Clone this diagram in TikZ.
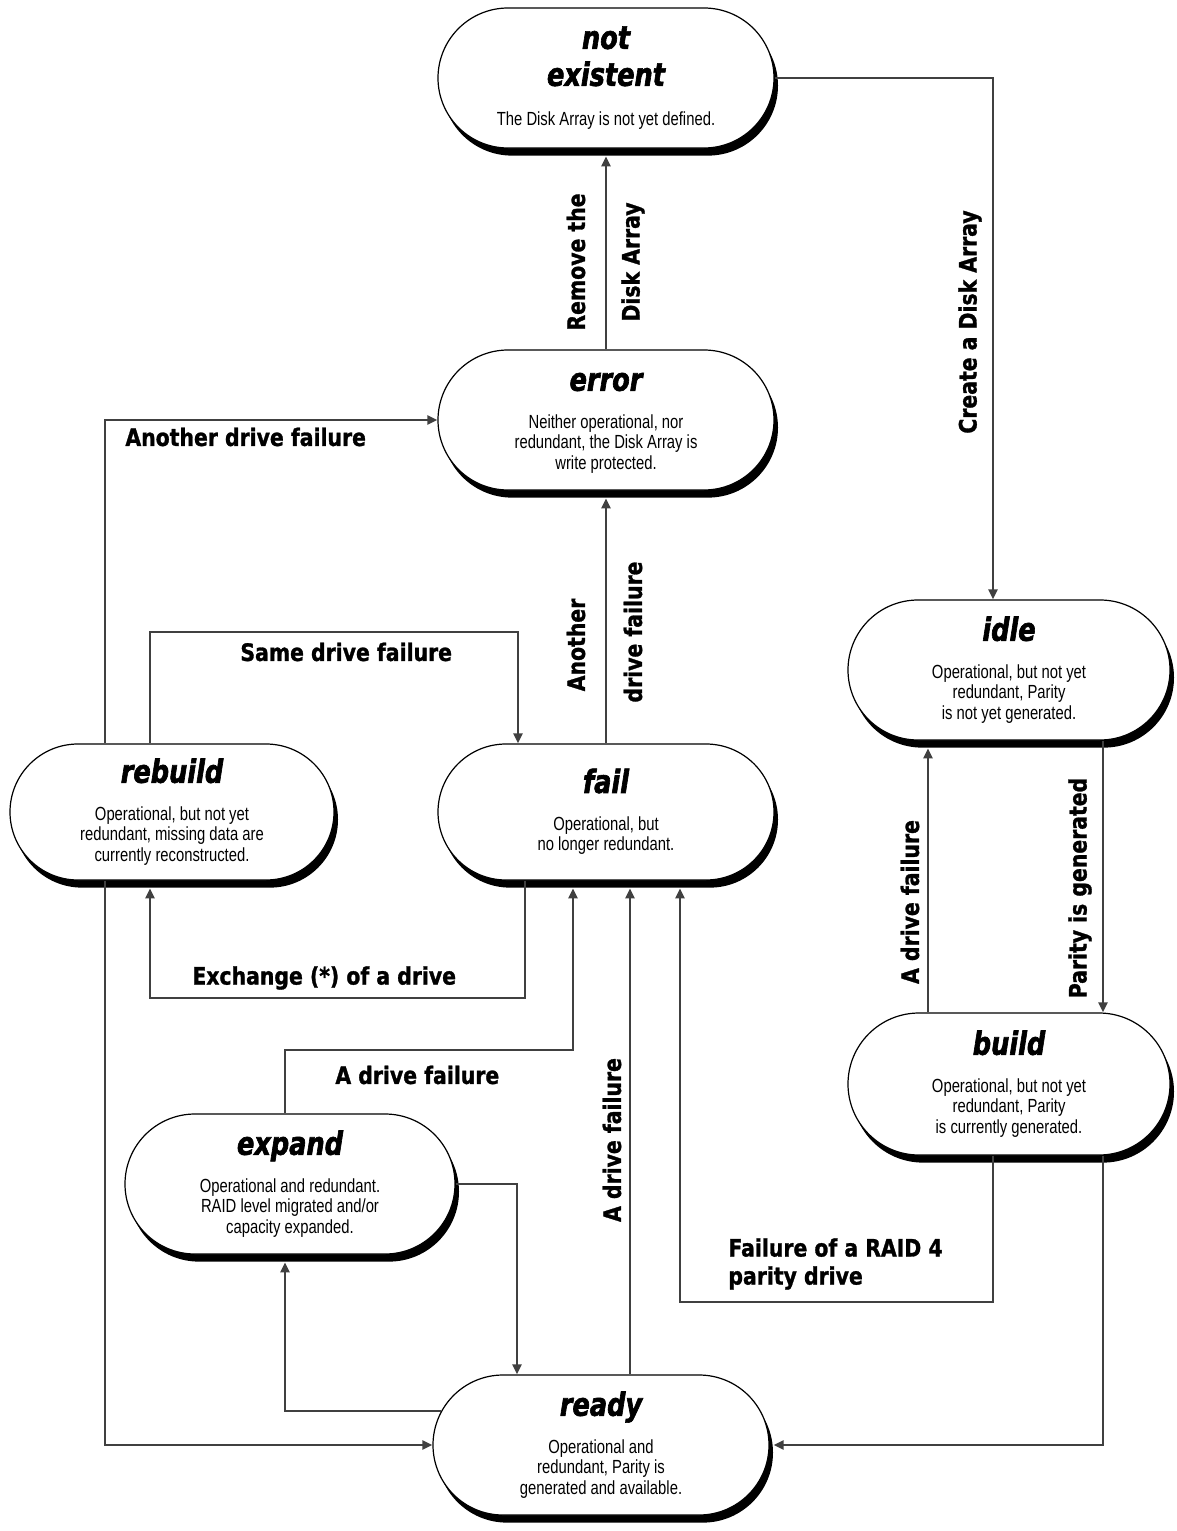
\documentclass[tikz,border=0pt]{standalone}
\usepackage{fontspec}
\usetikzlibrary{shapes.misc,shadows,arrows.meta,calc}
\newfontfamily\ttlfam[FakeStretch=0.8,FakeBold=2]{DejaVu Sans}
\newfontfamily\lblfam[FakeStretch=0.85,FakeBold=1.2]{DejaVu Sans}
\newfontfamily\dscfam[FakeStretch=0.78]{Liberation Sans}
\newcommand\stt[2]{\begin{tabular}{@{}c@{}}{\ttlfam\bfseries\itshape\fontsize{16}{18.5}\selectfont\begin{tabular}[b]{@{}c@{}}#1\end{tabular}}\\[8pt]{\dscfam\fontsize{9.5}{10.2}\selectfont\begin{tabular}{@{}c@{}}#2\end{tabular}}\end{tabular}}
\tikzset{
  state/.style={rounded rectangle, draw=black, line width=0.6pt, fill=white,
    minimum height=70pt, inner sep=0pt,
    drop shadow={shadow xshift=2pt, shadow yshift=-3.8pt, fill=black, opacity=1}},
  conn/.style={draw=black!75, line width=1.1pt, -{Triangle[length=5pt,width=4.5pt]}},
  tosouth/.style={shorten >=3.9pt},
  toeast/.style={shorten >=2pt},
  lbl/.style={font=\lblfam\bfseries\fontsize{12}{14}\selectfont, inner sep=0pt}
}
\begin{document}
\begin{tikzpicture}[x=0.5pt,y=-0.5pt]
\useasboundingbox (0,0) rectangle (1177,1531);
% states
\node[state, minimum width=168pt] (notex) at (606,78) {\stt{not\\existent}{The Disk Array is not yet defined.}};
\node[state, minimum width=168pt] (err) at (606,420) {\stt{error}{Neither operational, nor\\ redundant, the Disk Array is\\ write protected.}};
\node[state, minimum width=162pt, minimum height=68pt] (rebuild) at (172,812) {\stt{rebuild}{Operational, but not yet\\ redundant, missing data are\\ currently reconstructed.}};
\node[state, minimum width=168pt, minimum height=68pt] (fail) at (606,812) {\stt{fail}{Operational, but\\ no longer redundant.}};
\node[state, minimum width=161pt] (idle) at (1009,670) {\stt{idle}{Operational, but not yet\\ redundant, Parity\\ is not yet generated.}};
\node[state, minimum width=161pt, minimum height=71pt] (build) at (1009,1084) {\stt{build}{Operational, but not yet\\ redundant, Parity\\ is currently generated.}};
\node[state, minimum width=165pt] (expand) at (290,1184) {\stt{expand}{Operational and redundant.\\ RAID level migrated and/or\\ capacity expanded.}};
\node[state, minimum width=168pt] (ready) at (601,1445) {\stt{ready}{Operational and\\ redundant, Parity is\\ generated and available.}};
% connectors
\draw[conn] (notex.east) -| (993,0 |- idle.north);
\draw[conn,tosouth] (err.north) -- (notex.south);
\draw[conn,tosouth] (fail.north) -- (err.south);
\draw[conn] (105,0 |- rebuild.north) |- (err.west);
\draw[conn] (150,0 |- rebuild.north) -- (150,632) -| (518,0 |- fail.north);
\draw[conn,tosouth] (525,0 |- fail.south) -- (525,998) -| (150,0 |- rebuild.south);
\draw[conn,tosouth] (285,0 |- expand.north) -- (285,1050) -| (573,0 |- fail.south);
\draw[conn,tosouth] (630,0 |- ready.north) -- (630,0 |- fail.south);
\draw[conn,tosouth] (993,0 |- build.south) -- (993,1302) -| (680,0 |- fail.south);
\draw[conn,tosouth] (928,0 |- build.north) -- (928,0 |- idle.south);
\draw[conn] (1103,0 |- idle.south) -- (1103,0 |- build.north);
\draw[conn] (expand.east) -- (517,0 |- expand.east) -- (517,0 |- ready.north);
\draw[conn,tosouth] (ready.168) -| (285,0 |- expand.south);
\draw[conn] (105,0 |- rebuild.south) |- (ready.west);
\draw[conn,toeast] (1103,0 |- build.south) |- (ready.east);
% labels
\node[lbl, anchor=west] (l1) at (125,437) {Another drive failure};
\node[lbl, anchor=west] (l2) at (240,652) {Same drive failure};
\node[lbl, anchor=west] (l3) at (192,978) {Exchange (*) of a drive};
\node[lbl, anchor=west] (l4) at (335,1075) {A drive failure};
\node[lbl, anchor=west, align=left] (l5) at (728,1264) {Failure of a RAID 4\\parity drive};
\node[lbl, rotate=90] (l6) at (576,262) {Remove the};
\node[lbl, rotate=90] (l7) at (633,262) {Disk Array};
\node[lbl, rotate=90] (l8) at (576,645) {Another};
\node[lbl, rotate=90] (l9) at (633,632) {drive failure};
\node[lbl, rotate=90] (l10) at (970,322) {Create a Disk Array};
\node[lbl, rotate=90] (l11) at (612,1140) {A drive failure};
\node[lbl, rotate=90] (l12) at (910,902) {A drive failure};
\node[lbl, rotate=90] (l13) at (1080,888) {Parity is generated};
\end{tikzpicture}
\end{document}
